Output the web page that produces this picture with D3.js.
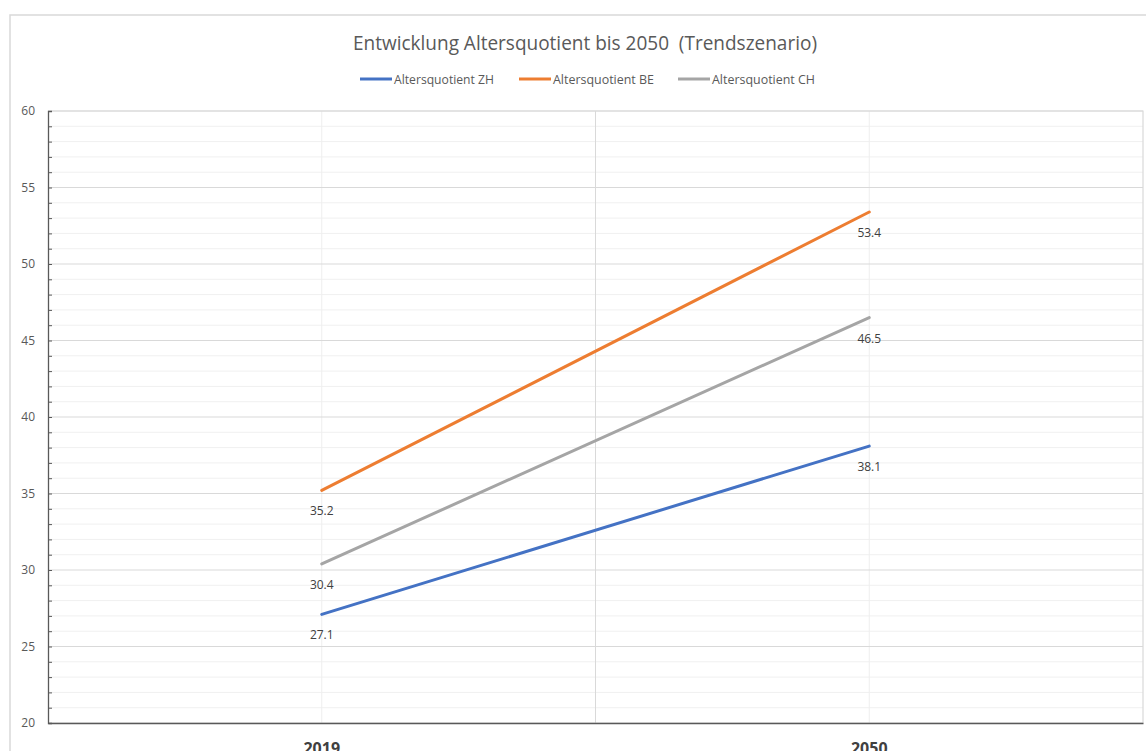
<!DOCTYPE html>
<html><head><meta charset="utf-8">
<script src="https://cdn.jsdelivr.net/npm/d3@7"></script>
<style>html,body{margin:0;padding:0;background:#fff;overflow:hidden}</style>
</head><body>
<svg id="c" width="1146" height="751"></svg>
<script>
const categories = ["2019", "2050"];
const seriesNames = ["Altersquotient ZH", "Altersquotient BE", "Altersquotient CH"];
const valuesZH = [27.1, 38.1];
const valuesBE = [35.2, 53.4];
const valuesCH = [30.4, 46.5];
const yTicks = [20, 25, 30, 35, 40, 45, 50, 55, 60];
const title = "Entwicklung Altersquotient bis 2050  (Trendszenario)";

const colors = ["#4472C4", "#ED7D31", "#A5A5A5"];
const series = [valuesZH, valuesBE, valuesCH].map((v, i) => ({name: seriesNames[i], values: v, color: colors[i]}));

const font = "'Open Sans', 'Noto Sans', sans-serif";
const svg = d3.select("#c");
const L = 48, R = 1143, T = 111, B = 723;

const x = d3.scaleBand().domain(categories).range([L, R]).padding(0);
const xc = c => x(c) + x.bandwidth() / 2;
const y = d3.scaleLinear().domain([20, 60]).range([B, T]);

// outer chart border
svg.append("rect").attr("x", 10).attr("y", 15).attr("width", 1200).attr("height", 800)
  .attr("fill", "#fff").attr("stroke", "#d9d9d9").attr("stroke-width", 1.5);

// minor horizontal gridlines
const minor = d3.range(20, 60.01, 1).filter(v => v % 5 !== 0);
svg.append("g").selectAll("line").data(minor).join("line")
  .attr("x1", L).attr("x2", R).attr("y1", d => y(d)).attr("y2", d => y(d))
  .attr("stroke", "#f0f0f0").attr("stroke-width", 1);
// vertical minor gridlines at category centres
svg.append("g").selectAll("line").data(categories).join("line")
  .attr("x1", d => xc(d)).attr("x2", d => xc(d)).attr("y1", T).attr("y2", B)
  .attr("stroke", "#eeeeee").attr("stroke-width", 1);
// major horizontal gridlines
svg.append("g").selectAll("line").data(yTicks).join("line")
  .attr("x1", L).attr("x2", R).attr("y1", d => y(d)).attr("y2", d => y(d))
  .attr("stroke", "#d9d9d9").attr("stroke-width", 1);
// vertical major gridline between categories
svg.append("g").selectAll("line").data(categories.slice(1)).join("line")
  .attr("x1", d => x(d)).attr("x2", d => x(d)).attr("y1", T).attr("y2", B)
  .attr("stroke", "#d9d9d9").attr("stroke-width", 1);
// plot area border (top/right)
svg.append("path").attr("d", `M${L},${T}H${R}V${B}`).attr("fill", "none")
  .attr("stroke", "#d9d9d9").attr("stroke-width", 1.2);

// y axis
const yAxis = svg.append("g").attr("transform", `translate(${L},0)`)
  .call(d3.axisLeft(y).tickValues(d3.range(20, 60.01, 1)).tickSize(-4).tickFormat(""));
yAxis.select(".domain").attr("stroke", "#595959").attr("stroke-width", 1.3);
yAxis.selectAll(".tick line").attr("stroke", "#595959");
svg.append("g").selectAll("text").data(yTicks).join("text")
  .attr("x", 35).attr("y", d => y(d) + 4.3).attr("text-anchor", "end")
  .attr("font-family", font).attr("font-size", 12).attr("fill", "#595959").text(d => d);

// x axis
const xAxis = svg.append("g").attr("transform", `translate(0,${B})`)
  .call(d3.axisBottom(x).tickSize(0).tickFormat(""));
xAxis.select(".domain").attr("stroke", "#595959").attr("stroke-width", 1.3);
svg.append("g").selectAll("text").data(categories).join("text")
  .attr("x", d => xc(d)).attr("y", 753.5).attr("text-anchor", "middle")
  .attr("font-family", font).attr("font-size", 16).attr("font-weight", "bold")
  .attr("fill", "#404040").text(d => d);

// lines
const line = d3.line().x((d, i) => xc(categories[i])).y(d => y(d));
svg.append("g").selectAll("path").data(series).join("path")
  .attr("d", d => line(d.values)).attr("fill", "none")
  .attr("stroke", d => d.color).attr("stroke-width", 3).attr("stroke-linecap", "round");

// data labels
series.forEach(s => {
  svg.append("g").selectAll("text").data(s.values).join("text")
    .attr("x", (d, i) => xc(categories[i])).attr("y", d => y(d) + 25)
    .attr("text-anchor", "middle").attr("font-family", font).attr("font-size", 12)
    .attr("fill", "#404040").text(d => d.toFixed(1));
});

// title
svg.append("text").attr("x", 585).attr("y", 50).attr("text-anchor", "middle")
  .attr("font-family", font).attr("font-size", 20).attr("fill", "#595959")
  .attr("textLength", 464).attr("lengthAdjust", "spacingAndGlyphs")
  .style("white-space", "pre").text(title);

// legend
const legX = [360, 519, 678];
const leg = svg.append("g");
series.forEach((s, i) => {
  leg.append("line").attr("x1", legX[i]).attr("x2", legX[i] + 32).attr("y1", 79).attr("y2", 79)
    .attr("stroke", s.color).attr("stroke-width", 3);
  leg.append("text").attr("x", legX[i] + 34).attr("y", 83.5)
    .attr("font-family", font).attr("font-size", 12).attr("fill", "#595959")
    .attr("textLength", [100, 101, 103][i]).attr("lengthAdjust", "spacingAndGlyphs")
    .text(s.name);
});
</script>
</body></html>
